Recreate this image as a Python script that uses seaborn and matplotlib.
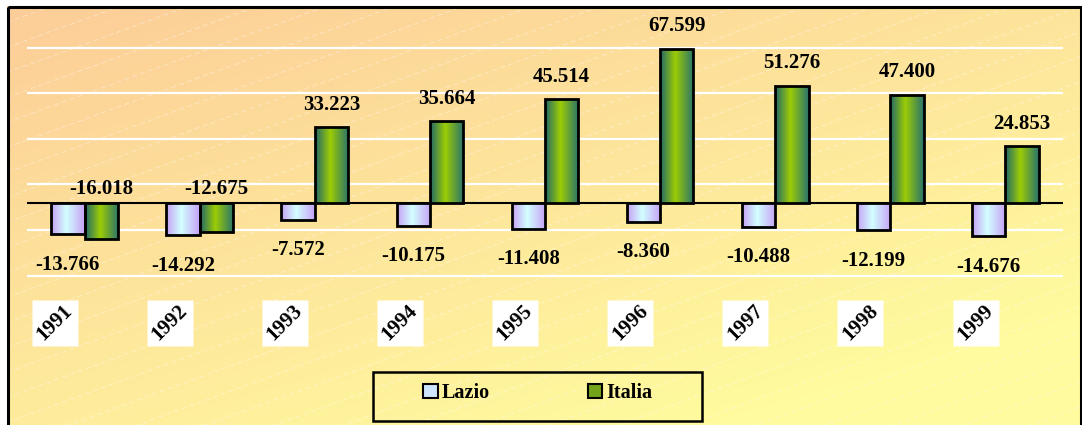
# =========================================
# LAZIO vs ITALIA - BAR CHART 1991-1999
# =========================================

import numpy as np
import pandas as pd
import seaborn as sns
import matplotlib.pyplot as plt
from matplotlib.colors import LinearSegmentedColormap, to_rgb
from matplotlib.patches import Rectangle, Patch
from matplotlib.transforms import blended_transform_factory


# =========================================
# DATA
# =========================================

years = ['1991', '1992', '1993', '1994', '1995', '1996', '1997', '1998', '1999']

lazio = [-13.766, -14.292, -7.572, -10.175, -11.408, -8.360, -10.488, -12.199, -14.676]

italia = [-16.018, -12.675, 33.223, 35.664, 45.514, 67.599, 51.276, 47.400, 24.853]

series_names = ['Lazio', 'Italia']

df = pd.DataFrame({
    'year': years * 2,
    'serie': [series_names[0]] * len(years) + [series_names[1]] * len(years),
    'valore': lazio + italia
})


# =========================================
# FIGURE + BACKGROUND
# =========================================

W, H = 1082, 425
fig = plt.figure(figsize=(W / 100, H / 100), dpi=100)
fig.patch.set_facecolor('white')

bg = fig.add_axes([0, 0, 1, 1], zorder=-5)
bg.set_xlim(0, W)
bg.set_ylim(H, 0)
bg.axis('off')

# diagonal peach -> yellow gradient
c0 = np.array(to_rgb('#fccd98'))
c1 = np.array(to_rgb('#fffb9e'))
xx, yy = np.meshgrid(np.linspace(0, 1, 300), np.linspace(0, 1, 120))
t = np.clip((xx * 0.55 + yy * 0.75) / 1.1, 0, 1)[..., None]
grad = c0 * (1 - t) + c1 * t
bg.imshow(grad, extent=(7, 1081, 430, 6), aspect='auto', zorder=0)

# faint diagonal hatch lines
ang = np.tan(np.radians(20))
for y0 in np.arange(0, H + W * ang + 30, 25):
    bg.plot([7, 1081], [y0 - ang * 7, y0 - ang * 1081], color='white',
            lw=0.6, alpha=0.45, ls=(0, (6, 4)), zorder=1)

bg.add_patch(Rectangle((7.5, 6.5), 1073, 430, fill=False, ec='black', lw=2.2, zorder=3))


# =========================================
# BAR CHART
# =========================================

y_min, y_max = -40, 76
px_zero = 202.7
px_per = 2.277
top_px = px_zero - y_max * px_per
bot_px = px_zero - y_min * px_per

ax = fig.add_axes([27 / W, 1 - bot_px / H, 1036 / W, (bot_px - top_px) / H])
ax.set_facecolor('none')

sns.barplot(
    data=df, x='year', y='valore', hue='serie',
    hue_order=series_names, palette=['#d0f0ff', '#88bb10'],
    width=0.58, edgecolor='black', linewidth=2,
    legend=False, ax=ax, zorder=3
)

ax.set_ylim(y_min, y_max)
ax.set_xlim(-0.5, len(years) - 0.5)

for v in [-32, -12, 8, 28, 48, 68]:
    ax.axhline(v, color='white', lw=1.6, zorder=1)
ax.axhline(0, color='black', lw=1.5, zorder=2)

for s in ax.spines.values():
    s.set_visible(False)
ax.set_xticks([])
ax.set_yticks([])
ax.set_xlabel('')
ax.set_ylabel('')


# =========================================
# GRADIENT FILL ON BARS
# =========================================

lazio_cmap = LinearSegmentedColormap.from_list(
    'lz', [(0, '#c6a2f6'), (0.45, '#d2ffff'), (1, '#c6a2f6')])
italia_cmap = LinearSegmentedColormap.from_list(
    'it', [(0, '#22696a'), (0.45, '#9ccc04'), (1, '#2a746c')])

ramp = np.linspace(0, 1, 64).reshape(1, -1)
n = len(years)
for i, bar in enumerate(ax.patches[:2 * n]):
    cmap = lazio_cmap if i < n else italia_cmap
    x0 = bar.get_x()
    w = bar.get_width()
    y0 = bar.get_y()
    h = bar.get_height()
    im = ax.imshow(ramp, cmap=cmap, aspect='auto',
                   extent=(x0, x0 + w, y0, y0 + h), zorder=2.9)
    im.set_clip_path(bar)
    bar.set_facecolor('none')

ax.set_xlim(-0.5, n - 0.5)
ax.set_ylim(y_min, y_max)


# =========================================
# VALUE LABELS
# =========================================

lbl_font = dict(family='Liberation Serif', weight='bold', size=15, color='black')
pt = 72 / 100

bars_lazio = ax.patches[:n]
bars_italia = ax.patches[n:2 * n]

for bar, v in zip(bars_lazio, lazio):
    cx = bar.get_x() + bar.get_width() / 2
    ax.annotate(f'{v:.3f}', xy=(cx, v), xytext=(0, -30.5 * pt),
                textcoords='offset points', ha='center', va='center', **lbl_font)

for bar, v in zip(bars_italia, italia):
    cx = bar.get_x() + bar.get_width() / 2
    if v >= 0:
        off = 22.5
    else:
        off = 13.5
    ax.annotate(f'{v:.3f}', xy=(cx, max(v, 0)), xytext=(0, off * pt),
                textcoords='offset points', ha='center', va='center', **lbl_font)


# =========================================
# YEAR LABELS (white boxes, rotated)
# =========================================

trans = blended_transform_factory(ax.transData, ax.transAxes)
y_lab = (bot_px - 323) / (bot_px - top_px)
for i, yr in enumerate(years):
    ax.plot(i - 0.26, y_lab, marker='s', markersize=33, color='white',
            mec='none', transform=trans, clip_on=False, zorder=4)
    ax.text(i - 0.26, y_lab, yr, rotation=45, rotation_mode='anchor',
            ha='center', va='center', transform=trans, zorder=5,
            family='Liberation Serif', weight='bold', size=15)


# =========================================
# LEGEND
# =========================================

handles = [
    Patch(facecolor='#cfe6ff', edgecolor='black', lw=1.5, label='Lazio'),
    Patch(facecolor='#74a41c', edgecolor='black', lw=1.5, label='Italia'),
]
fig.legend(handles=handles, loc='center', bbox_to_anchor=(538 / W, 1 - 393 / H),
           ncol=2, frameon=False, handlelength=0.7, handleheight=0.7,
           handletextpad=0.2, columnspacing=4.9,
           prop=dict(family='Liberation Serif', weight='bold', size=14.5))
bg.add_patch(Rectangle((373, 372), 329, 49, fill=False, ec='black', lw=1.8, zorder=3))

plt.savefig('out.png', dpi=100)
